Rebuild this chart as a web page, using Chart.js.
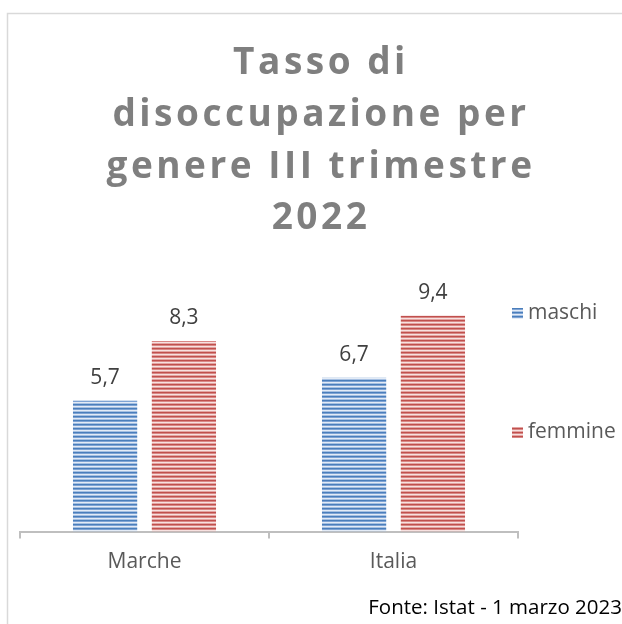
<!DOCTYPE html>
<html>
<head>
<meta charset="utf-8">
<style>
  html, body { margin: 0; padding: 0; background: #ffffff; }
  #wrap { position: relative; width: 622px; height: 624px; }
</style>
<script src="https://cdn.jsdelivr.net/npm/chart.js@4.4.1/dist/chart.umd.min.js"></script>
</head>
<body>
<div id="wrap"><canvas id="c" width="622" height="624"></canvas></div>
<script>
// ---- data ----
const categories = ['Marche', 'Italia'];
const seriesNames = ['maschi', 'femmine'];
const maschi = [5.7, 6.7];
const femmine = [8.3, 9.4];
const titleLines = ['Tasso di', 'disoccupazione per', 'genere III trimestre', '2022'];
const sourceNote = 'Fonte: Istat - 1 marzo 2023';

const FONT = "'Open Sans', 'Noto Sans', sans-serif";

function stripePattern(colors) {
  const c = document.createElement('canvas');
  c.width = 4; c.height = colors.length;
  const x = c.getContext('2d');
  colors.forEach((col, i) => { x.fillStyle = col; x.fillRect(0, i, 4, 1); });
  return x.createPattern(c, 'repeat');
}
const ctx = document.getElementById('c').getContext('2d');
const bluePat = stripePattern(['#4a7ebb', '#7ea3d4', '#e3ebf6', '#a6c0e2']);
const redPat = stripePattern(['#c0504d', '#d98886', '#f7e1e0', '#e3a5a3']);
const fills = [bluePat, redPat];

const fmt = v => v.toLocaleString('it-IT', {minimumFractionDigits: 1, maximumFractionDigits: 1});

// frame + letter-spaced title
const framePlugin = {
  id: 'frame',
  beforeDraw(chart) {
    const c = chart.ctx;
    c.save();
    c.strokeStyle = '#d9d9d9';
    c.lineWidth = 1.5;
    c.strokeRect(7.5, 13.5, chart.width + 20, chart.height + 20);
    c.restore();
    const tb = chart.titleBlock;
    if (tb && !tb._spaced) {
      const orig = tb.draw.bind(tb);
      tb.draw = function(area) {
        const cc = this.ctx;
        cc.save();
        cc.letterSpacing = '3.5px';
        orig(area);
        cc.restore();
      };
      tb._spaced = true;
    }
  }
};

// value labels above bars
const valueLabels = {
  id: 'valueLabels',
  afterDatasetsDraw(chart) {
    const c = chart.ctx;
    c.save();
    c.font = "21px " + FONT;
    c.fillStyle = '#404040';
    c.textAlign = 'center';
    c.textBaseline = 'middle';
    chart.data.datasets.forEach((ds, di) => {
      const meta = chart.getDatasetMeta(di);
      meta.data.forEach((el, i) => {
        c.fillText(fmt(ds.data[i]), el.x, el.y - 23);
      });
    });
    c.restore();
  }
};

// legend at right, items spread vertically
const sideLegend = {
  id: 'sideLegend',
  afterDraw(chart) {
    const c = chart.ctx;
    const a = chart.chartArea;
    const ys = [313, 432];
    c.save();
    c.font = "21px " + FONT;
    c.textBaseline = 'middle';
    c.textAlign = 'left';
    chart.data.datasets.forEach((ds, i) => {
      const bx = a.right - 6, by = ys[i] - 5;
      c.fillStyle = ds.backgroundColor;
      c.fillRect(bx, by, 11, 11);
      c.fillStyle = '#595959';
      c.fillText(ds.label, bx + 16, ys[i]);
    });
    c.restore();
  }
};

new Chart(ctx, {
  type: 'bar',
  data: {
    labels: categories,
    datasets: [
      { label: seriesNames[0], data: maschi, backgroundColor: fills[0], borderWidth: 0 },
      { label: seriesNames[1], data: femmine, backgroundColor: fills[1], borderWidth: 0 }
    ]
  },
  options: {
    responsive: false,
    animation: false,
    devicePixelRatio: 1,
    layout: { padding: { left: 20, right: 0, top: 0, bottom: 0 } },
    categoryPercentage: 0.633,
    barPercentage: 0.815,
    scales: {
      x: {
        grid: { display: true, drawOnChartArea: false, drawTicks: true, tickLength: 7, color: '#bfbfbf', lineWidth: 2, offset: true },
        border: { display: true, color: '#bfbfbf', width: 2 },
        ticks: { color: '#595959', font: { family: FONT, size: 21, lineHeight: 1.2 }, padding: 10.4 }
      },
      y: {
        position: 'right',
        min: 0, max: 12,
        grid: { display: false },
        border: { display: false },
        ticks: { display: false },
        afterFit(scale) { scale.width = 104; }
      }
    },
    plugins: {
      legend: { display: false },
      tooltip: { enabled: false },
      title: {
        display: true,
        text: titleLines,
        color: '#7f7f7f',
        font: { family: FONT, size: 37, weight: 'bold', lineHeight: 1.395 },
        padding: { top: 38, bottom: 11.6 }
      },
      subtitle: {
        display: true,
        position: 'bottom',
        align: 'end',
        text: sourceNote,
        color: '#000000',
        font: { family: FONT, size: 20.5, lineHeight: 1.2 },
        padding: { top: 11.4, bottom: 3.4 }
      }
    }
  },
  plugins: [framePlugin, valueLabels, sideLegend]
});
</script>
</body>
</html>
